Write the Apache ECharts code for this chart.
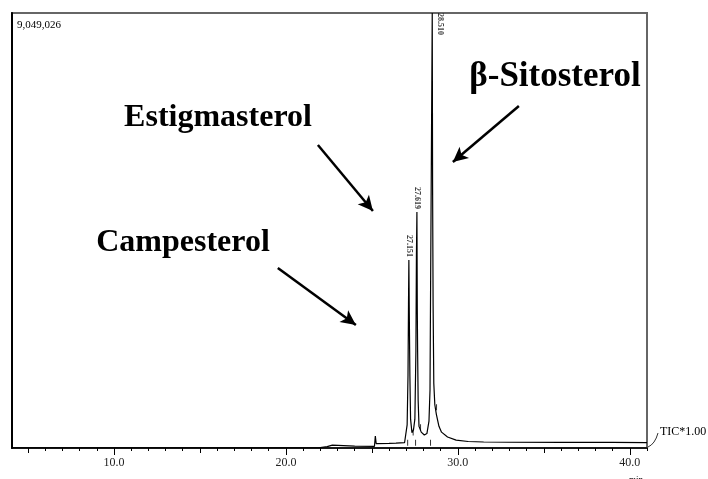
<!DOCTYPE html>
<html>
<head>
<meta charset="utf-8">
<title>TIC</title>
<script src="https://cdn.jsdelivr.net/npm/echarts@6.0.0/dist/echarts.min.js"></script>
<style>
	html, body { margin: 0; padding: 0; background: #fff; }
	#main { width: 708px; height: 479px; }
</style>
</head>
<body>
<div id="main"></div>
<script>
// 保留时间 (min) / 强度
var times = [4.07, 21.9, 22.0, 22.4, 22.7, 22.8, 24.0, 25.15, 25.2, 25.25, 26.0, 26.4, 26.9, 27.0, 27.05, 27.10, 27.13,
	27.151, 27.17, 27.21, 27.25, 27.33, 27.42, 27.5, 27.56, 27.59, 27.619, 27.64, 27.66, 27.69, 27.74, 27.87, 28.05, 28.2, 28.32, 28.38, 28.40,
	28.45, 28.51, 28.53, 28.56, 28.60, 28.66, 28.75, 28.9, 29.05, 29.4, 29.9, 30.6, 31.5, 33.0, 36.0, 39.0, 41.0];
var tic = [5000, 5000, 30000, 30000, 60000, 35000, 40000, 35000, 250000, 90000, 95000, 100000, 110000, 130000, 480000, 1500000, 3000000,
	3910000, 3000000, 1500000, 600000, 320000, 380000, 600000, 2000000, 4000000, 4910000, 2900000, 2000000, 1000000, 450000, 330000, 270000, 300000, 560000, 1200000, 2500000,
	5490000, 9049026, 5490000, 3000000, 1350000, 900000, 700000, 450000, 330000, 230000, 165000, 135000, 125000, 120000, 115000, 115000, 113000];

var peakTimes = [27.151, 27.619, 28.510];
var peakHeights = [3910000, 4910000, 9049026];
var peakNames = ['27.151', '27.619', '28.510'];

// 积分标记
var markTimes = [27.08, 27.40, 27.54, 27.83, 28.41, 28.76];
var markValues = [110000, 320000, 110000, 430000, 110000, 850000];

var yMax = 9049026;
var xMin = 4.07, xMax = 41.0;
var minorTicks = [5, 6, 7, 8, 9, 10, 11, 12, 13, 14, 15, 16, 17, 18, 19, 20, 21, 22, 23, 24, 25, 26, 27, 28, 29, 30, 31, 32, 33, 34, 35, 36, 37, 38, 39, 40, 41];
var midTicks = [5, 15, 25, 35];
var majorTicks = [10, 20, 30, 40];

// 注释箭头: 名称, 起点, 终点
var arrowNames = ['Estigmasterol', 'Campesterol', 'β-Sitosterol'];
var arrowFrom = [[21.86, 6303000], [19.53, 3744000], [33.55, 7114000]];
var arrowTo = [[25.06, 4930000], [24.07, 2559000], [29.71, 5949000]];

var line = [];
for(var i = 0; i < times.length; i++) {
	line.push([times[i], tic[i]]);
}
var peaks = [];
for(var i = 0; i < peakTimes.length; i++) {
	var item = { value: [peakTimes[i], peakHeights[i], peakNames[i]] };
	if(peakHeights[i] >= yMax) {
		// 顶端峰, 标签放到右侧
		item.label = { position: 'right', distance: 8, align: 'left', verticalAlign: 'middle' };
	}
	peaks.push(item);
}
var marks = [];
for(var i = 0; i < markTimes.length; i++) {
	marks.push([markTimes[i], markValues[i]]);
}
var arrows = [];
for(var i = 0; i < arrowFrom.length; i++) {
	arrows.push([{ coord: arrowFrom[i] }, { coord: arrowTo[i] }]);
}

var serif = '"Liberation Serif", "Times New Roman", serif';

function xAxisOf(ticks, len, labels) {
	return {
		type: 'value',
		min: xMin,
		max: xMax,
		position: 'bottom',
		axisLine: { show: !!labels, lineStyle: { color: '#000', width: 1.5 } },
		axisTick: { show: true, length: len, customValues: ticks, lineStyle: { color: '#000', width: 1 } },
		axisLabel: labels ? {
			show: true,
			customValues: labels,
			margin: 9,
			color: '#222',
			fontSize: 12,
			fontFamily: serif,
			formatter: function(v) { return v.toFixed(1); }
		} : { show: false },
		splitLine: { show: false }
	};
}

var myChart = echarts.init(document.getElementById('main'), null, { renderer: 'canvas' });
option = {
	animation: false,
	backgroundColor: '#fff',
	grid: {
		left: 12, right: 61, top: 13, bottom: 31,
		show: true,
		borderColor: '#666',
		borderWidth: 2
	},
	xAxis: [
		xAxisOf(minorTicks, 3, majorTicks),
		xAxisOf(midTicks, 5, null),
		xAxisOf(majorTicks, 7, null)
	],
	yAxis: {
		type: 'value',
		min: 0,
		max: yMax,
		axisLine: { show: true, lineStyle: { color: '#000', width: 2 } },
		axisTick: { show: false },
		axisLabel: { show: false },
		splitLine: { show: false }
	},
	series: [{
		name: 'TIC',
		type: 'line',
		data: line,
		symbol: 'none',
		sampling: null,
		lineStyle: { color: '#000', width: 1.2 },
		markLine: {
			silent: true,
			symbol: ['none', 'arrow'],
			symbolSize: [11, 15],
			label: { show: false },
			lineStyle: { color: '#000', width: 2.5, type: 'solid' },
			data: arrows
		}
	}, {
		name: 'peaks',
		type: 'scatter',
		data: peaks,
		symbolSize: 0,
		label: {
			show: true,
			position: 'top',
			distance: 3,
			rotate: -90,
			align: 'right',
			verticalAlign: 'middle',
			fontSize: 8,
			fontWeight: 'bold',
			fontFamily: serif,
			color: '#000',
			formatter: function(p) { return p.value[2]; }
		}
	}, {
		name: 'marks',
		type: 'scatter',
		data: marks,
		symbol: 'rect',
		symbolSize: [1, 6],
		itemStyle: { color: '#000' }
	}],
	graphic: [
		{ type: 'text', left: 17, top: 20, style: { text: '9,049,026', font: '11px ' + serif, fill: '#000' } },
		{ type: 'text', x: 218, y: 118, style: { text: arrowNames[0], font: 'bold 32px ' + serif, fill: '#000', textAlign: 'center', textVerticalAlign: 'middle' } },
		{ type: 'text', x: 183, y: 243, style: { text: arrowNames[1], font: 'bold 32px ' + serif, fill: '#000', textAlign: 'center', textVerticalAlign: 'middle' } },
		{ type: 'text', x: 555, y: 77, style: { text: arrowNames[2], font: 'bold 35px ' + serif, fill: '#000', textAlign: 'center', textVerticalAlign: 'middle' } },
		{ type: 'text', x: 660, y: 432, style: { text: 'TIC*1.00', font: '12px ' + serif, fill: '#000', textVerticalAlign: 'middle' } },
		{ type: 'bezierCurve', shape: { x1: 648, y1: 447, x2: 658, y2: 433, cpx1: 655, cpy1: 444 }, style: { stroke: '#333', lineWidth: 1, fill: null } },
		{ type: 'text', x: 629, y: 475, style: { text: 'min', font: '9px ' + serif, fill: '#000' } }
	]
};
myChart.setOption(option);
</script>
</body>
</html>
